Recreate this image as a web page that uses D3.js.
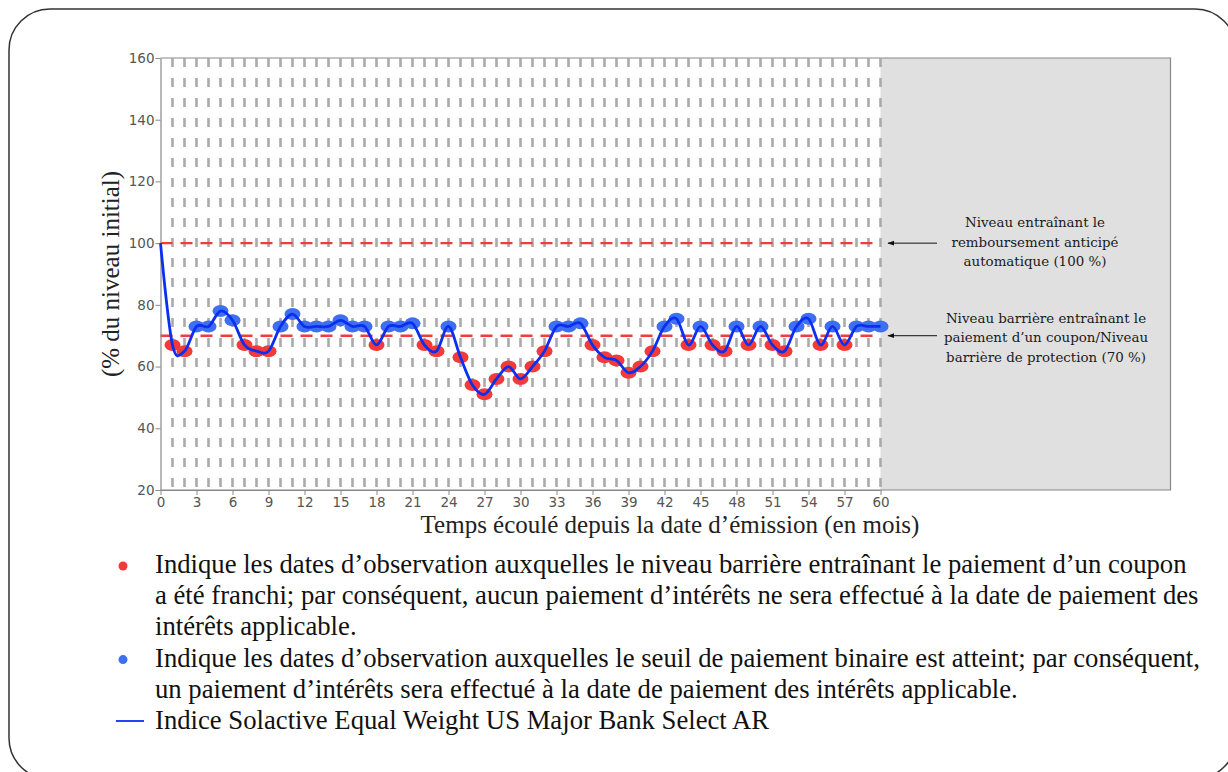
<!DOCTYPE html>
<html>
<head>
<meta charset="utf-8">
<script src="https://cdn.jsdelivr.net/npm/d3@7"></script>
<style>
body { margin: 0; background: #fff; }
</style>
</head>
<body>
<div id="chart"></div>
<script>
// index level (% of initial) at each monthly observation, month 0..60
var levels = [100,
  67, 65, 73, 73, 78, 75, 67, 65, 65, 73,
  77, 73, 73, 73, 75, 73, 73, 67, 73, 73,
  74, 67, 65, 73, 63, 54, 51, 56, 60, 56,
  60, 65, 73, 73, 74, 67, 63, 62, 58, 60,
  65, 73, 75.5, 67, 73, 67, 65, 73, 67, 73,
  67, 65, 73, 75.5, 67, 73, 67, 73, 73, 73];
var xTicks = [0, 3, 6, 9, 12, 15, 18, 21, 24, 27, 30, 33, 36, 39, 42, 45, 48, 51, 54, 57, 60];
var yTicks = [20, 40, 60, 80, 100, 120, 140, 160];
var barriers = [100, 70];
var couponBarrier = 70;
var notes = [
  {level: 100, lines: ["Niveau entraînant le", "remboursement anticipé", "automatique (100 %)"]},
  {level: 70, lines: ["Niveau barrière entraînant le", "paiement d’un coupon/Niveau", "barrière de  protection (70 %)"]}
];
var legendItems = [
  {type: "red", lines: ["Indique les dates d’observation auxquelles le niveau barrière entraînant le paiement d’un coupon",
    "a été franchi; par conséquent, aucun paiement d’intérêts ne sera effectué à la date de paiement des",
    "intérêts applicable."]},
  {type: "blue", lines: ["Indique les dates d’observation auxquelles le seuil de paiement binaire est atteint; par conséquent,",
    "un paiement d’intérêts sera effectué à la date de paiement des intérêts applicable."]},
  {type: "line", lines: ["Indice Solactive Equal Weight US Major Bank Select AR"]}
];

var red = "#f23a3a";
var blue = "#3e6ff0";
var lineBlue = "#0b2ff0";

var width = 1228, height = 772;
var plotLeft = 160.5, plotEnd = 880.5, plotRight = 1170.5;
var plotTop = 58, plotBottom = 490;
var noteX = [1035, 1046], noteShift = [-16, -13];

var svg = d3.select("#chart").append("svg")
  .attr("width", width)
  .attr("height", height)
  .style("display", "block");

var xScale = d3.scaleLinear().domain([0, 60]).range([plotLeft, plotEnd]);
var yScale = d3.scaleLinear().domain([20, 160]).range([plotBottom, plotTop]);

// outer rounded frame
svg.append("rect")
  .attr("x", 9).attr("y", 9)
  .attr("width", 1227).attr("height", 770)
  .attr("rx", 41).attr("ry", 41)
  .attr("fill", "none")
  .attr("stroke", "#333")
  .attr("stroke-width", 1.5);

// grey zone after maturity
svg.append("rect")
  .attr("x", xScale(60)).attr("y", plotTop)
  .attr("width", plotRight - xScale(60)).attr("height", plotBottom - plotTop)
  .attr("fill", "#e0e0e0");

// plot frame
svg.append("path")
  .attr("d", "M" + plotLeft + "," + plotTop + "H" + plotRight + "V" + plotBottom + "H" + plotLeft)
  .attr("fill", "none")
  .attr("stroke", "#888")
  .attr("stroke-width", 1.2);

// monthly dashed grid
svg.append("g").selectAll("line")
  .data(levels.slice(1))
  .enter().append("line")
  .attr("x1", function(d, i) { return xScale(i + 1); })
  .attr("x2", function(d, i) { return xScale(i + 1); })
  .attr("y1", yScale(160))
  .attr("y2", yScale(20))
  .attr("stroke", "#aaa")
  .attr("stroke-width", 2.6)
  .attr("stroke-dasharray", "9,11");

// barrier lines
svg.append("g").selectAll("line")
  .data(barriers)
  .enter().append("line")
  .attr("x1", xScale(0))
  .attr("x2", xScale(60))
  .attr("y1", function(d) { return yScale(d); })
  .attr("y2", function(d) { return yScale(d); })
  .attr("stroke", "#f03c3c")
  .attr("stroke-width", 2.4)
  .attr("stroke-dasharray", "12,8");

// axes
var yaxis = d3.axisLeft(yScale).tickValues(yTicks).tickSize(5).tickSizeOuter(0);
var xaxis = d3.axisBottom(xScale).tickValues(xTicks).tickSize(5).tickSizeOuter(0);

var gy = svg.append("g")
  .attr("transform", "translate(" + plotLeft + ",0)")
  .call(yaxis);
var gx = svg.append("g")
  .attr("transform", "translate(0," + plotBottom + ")")
  .call(xaxis);

[gx, gy].forEach(function(g) {
  g.select(".domain").attr("stroke", "#888").attr("stroke-width", 1.2);
  g.selectAll(".tick line").attr("stroke", "#888");
  g.selectAll(".tick text")
    .attr("fill", "#555")
    .style("font-family", "DejaVu Sans, sans-serif")
    .style("font-size", "13.5px");
});
gy.selectAll(".tick text").attr("x", -6);
gx.selectAll(".tick text").attr("y", 7);

// observation dots
svg.append("g").selectAll("ellipse")
  .data(levels.slice(1))
  .enter().append("ellipse")
  .attr("cx", function(d, i) { return xScale(i + 1); })
  .attr("cy", function(d) { return yScale(d); })
  .attr("rx", 8)
  .attr("ry", 6)
  .attr("fill", function(d) { return d < couponBarrier ? red : blue; });

// index line
var line = d3.line()
  .x(function(d, i) { return xScale(i); })
  .y(function(d) { return yScale(d); })
  .curve(d3.curveCardinal.tension(0));

svg.append("path")
  .datum(levels)
  .attr("d", line)
  .attr("fill", "none")
  .attr("stroke", lineBlue)
  .attr("stroke-width", 2.8);

// axis titles
svg.append("text")
  .attr("transform", "translate(119," + ((plotTop + plotBottom) / 2) + ") rotate(-90)")
  .attr("text-anchor", "middle")
  .style("font-family", "Liberation Serif, serif")
  .style("font-size", "25px")
  .attr("fill", "#222")
  .text("(% du niveau initial)");

svg.append("text")
  .attr("x", 670)
  .attr("y", 533)
  .attr("text-anchor", "middle")
  .style("font-family", "Liberation Serif, serif")
  .style("font-size", "25px")
  .attr("fill", "#222")
  .text("Temps écoulé depuis la date d’émission (en mois)");

// annotations with arrows
svg.append("defs").append("marker")
  .attr("id", "arrow")
  .attr("viewBox", "0 0 10 10")
  .attr("refX", 9).attr("refY", 5)
  .attr("markerWidth", 7).attr("markerHeight", 7)
  .attr("orient", "auto")
  .append("path")
  .attr("d", "M0,1.5L10,5L0,8.5Z")
  .attr("fill", "#111");

notes.forEach(function(n, k) {
  var yc = yScale(n.level);
  svg.append("line")
    .attr("x1", 937).attr("x2", 888)
    .attr("y1", yc).attr("y2", yc)
    .attr("stroke", "#111")
    .attr("stroke-width", 1)
    .attr("marker-end", "url(#arrow)");
  svg.append("g").selectAll("text")
    .data(n.lines)
    .enter().append("text")
    .attr("x", noteX[k])
    .attr("y", function(d, i) { return yc + noteShift[k] + i * 19.5; })
    .attr("text-anchor", "middle")
    .style("font-family", "DejaVu Serif, serif")
    .style("font-size", "13.4px")
    .attr("fill", "#1a1a1a")
    .text(function(d) { return d; });
});

// legend
var legY = 573, legStep = 31.2;
var row = 0;
legendItems.forEach(function(item) {
  var top = legY + row * legStep;
  if (item.type === "line") {
    svg.append("line")
      .attr("x1", 116).attr("x2", 144)
      .attr("y1", top - 8).attr("y2", top - 8)
      .attr("stroke", lineBlue)
      .attr("stroke-width", 1.8);
  } else {
    svg.append("circle")
      .attr("cx", 123).attr("cy", top - 7)
      .attr("r", 4.5)
      .attr("fill", item.type === "red" ? red : blue);
  }
  item.lines.forEach(function(t, i) {
    svg.append("text")
      .attr("x", 155)
      .attr("y", top + i * legStep)
      .style("font-family", "Liberation Serif, serif")
      .style("font-size", "26.7px")
      .attr("fill", "#111")
      .text(t);
  });
  row += item.lines.length;
});
</script>
</body>
</html>
